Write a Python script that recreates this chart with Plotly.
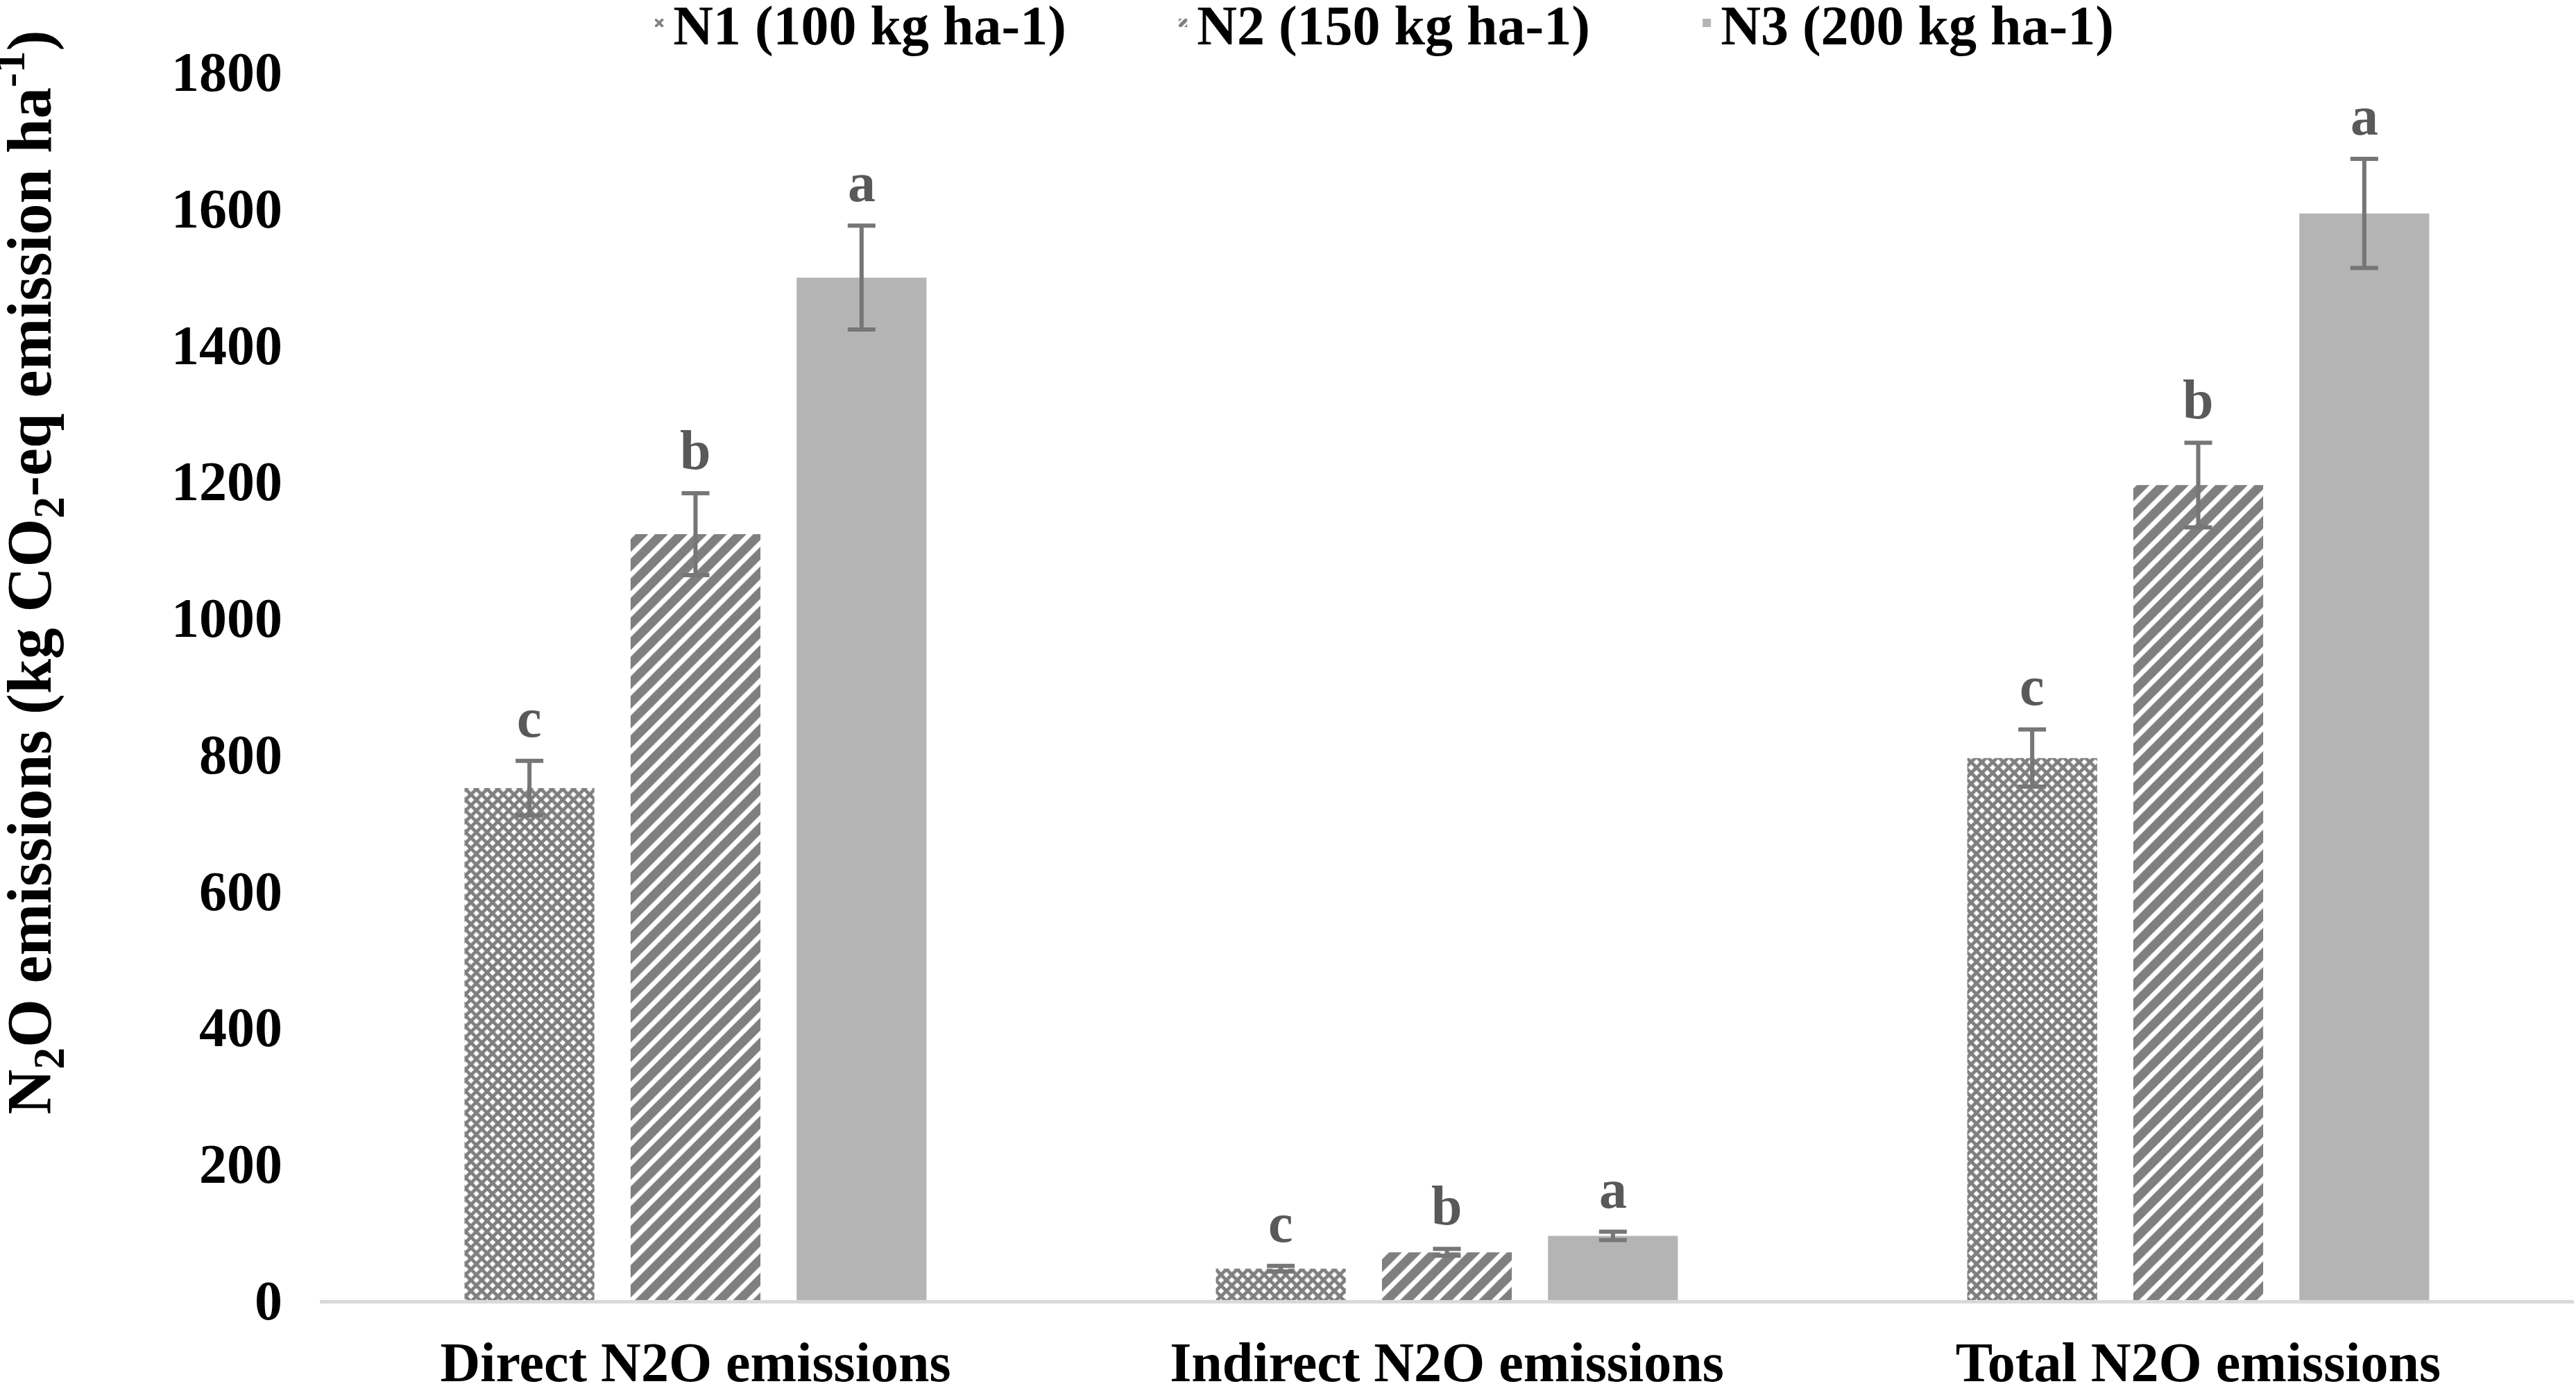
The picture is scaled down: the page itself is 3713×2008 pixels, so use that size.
import plotly.graph_objects as go

# données
categories = ['Direct N2O emissions', 'Indirect N2O emissions', 'Total N2O emissions']
series_names = ['N1 (100 kg ha-1)', 'N2 (150 kg ha-1)', 'N3 (200 kg ha-1)']
n1_values = [750, 46, 794]
n2_values = [1122, 70, 1194]
n3_values = [1498, 94, 1592]
n1_errors = [40, 4, 42]
n2_errors = [60, 5, 62]
n3_errors = [76, 6, 80]
n1_letters = ['c', 'c', 'c']
n2_letters = ['b', 'b', 'b']
n3_letters = ['a', 'a', 'a']
y_ticks = [0, 200, 400, 600, 800, 1000, 1200, 1400, 1600, 1800]

FONT = 'Liberation Serif, Times New Roman, serif'
BARGAP = 0.337
BARGROUPGAP = 0.218

values = [n1_values, n2_values, n3_values]
errors = [n1_errors, n2_errors, n3_errors]
letters = [n1_letters, n2_letters, n3_letters]
patterns = [
    dict(shape='x', size=11, solidity=0.7, fgcolor='black', bgcolor='white'),
    dict(shape='/', size=20, solidity=0.65, fgcolor='black', bgcolor='white'),
    dict(shape=''),
]
colors = ['black', 'black', '#b4b4b4']

fig = go.Figure()
for i in range(3):
    fig.add_bar(
        x=categories, y=values[i], name=series_names[i],
        marker=dict(color=colors[i], line=dict(width=0), pattern=patterns[i]),
        error_y=dict(type='data', array=errors[i], color='#767676',
                     thickness=6, width=20),
    )

# lettres de significativité au-dessus des barres d'erreur
slot = (1 - BARGAP) / 3
for i in range(3):
    for j in range(len(categories)):
        fig.add_annotation(
            x=j + (i - 1) * slot, y=values[i][j] + errors[i][j],
            xref='x', yref='y', text=letters[i][j], showarrow=False,
            yanchor='bottom', yshift=16,
            font=dict(family=FONT, size=80, color='#595959', weight='bold'),
        )

# titre de l'axe y
fig.add_annotation(
    xref='paper', yref='paper', x=0, y=0.592, xshift=-418,
    text='N<sub>2</sub>O emissions (kg CO<sub>2</sub>-eq emission ha<sup>-1</sup>)',
    textangle=-90, showarrow=False, xanchor='center', yanchor='middle',
    font=dict(family=FONT, size=90, color='black', weight='bold'),
)

fig.update_layout(
    width=3713, height=2008,
    margin=dict(l=461, r=3, t=103, b=134, pad=0, autoexpand=False),
    paper_bgcolor='white', plot_bgcolor='white',
    barmode='group', bargap=BARGAP, bargroupgap=BARGROUPGAP,
    font=dict(family=FONT, size=80, color='black', weight='bold'),
    showlegend=True,
    legend=dict(orientation='h', x=0.1444, xanchor='left', y=1.0725, yanchor='top',
                entrywidth=710, bgcolor='rgba(0,0,0,0)',
                font=dict(family=FONT, size=80, color='black', weight='bold')),
    xaxis=dict(showline=True, linecolor='#d9d9d9', linewidth=5, showgrid=False,
               ticks='', ticklabelstandoff=16,
               tickfont=dict(family=FONT, size=80, color='black', weight='bold')),
    yaxis=dict(range=[0, 1800], tickvals=y_ticks, showline=False, showgrid=False,
               zeroline=False, ticks='', ticklabelstandoff=53,
               tickfont=dict(family=FONT, size=80, color='black', weight='bold')),
)

# la marge par défaut du <body> décale la figure de 8 px
fig.write_html('out.html', config={'displayModeBar': False},
               post_script="document.body.style.margin='0';document.body.style.overflow='hidden';")
